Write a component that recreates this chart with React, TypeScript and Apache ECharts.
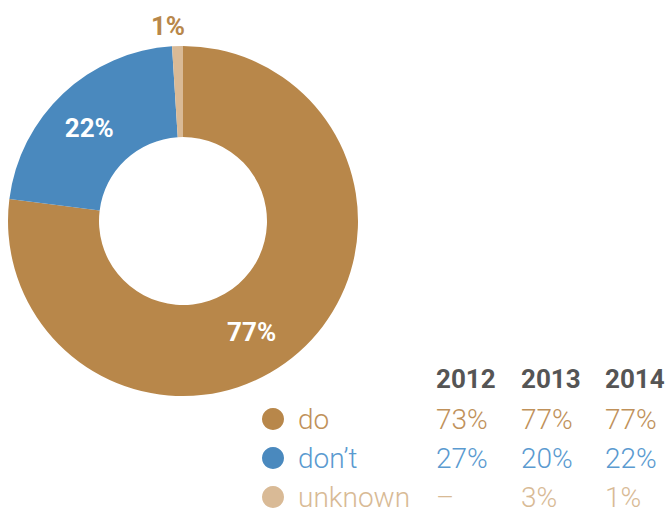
import React, { useEffect, useRef } from "react";
import * as echarts from "echarts";

// Categories and colours
const categories = ["do", "don\u2019t", "unknown"];
const sliceColors = ["#B8874A", "#4A89BE", "#D9BA96"];
const textColors = ["#C0915A", "#5A9AD0", "#D8BA95"];

// Table of yearly shares (%); null = no value ("–")
const years = ["2012", "2013", "2014"];
const doValues = [73, 77, 77];
const dontValues = [27, 20, 22];
const unknownValues: (number | null)[] = [null, 3, 1];

// The doughnut shows the latest year
const pieValues = [doValues[2], dontValues[2], unknownValues[2] as number];

export default function App() {
  const ref = useRef<HTMLDivElement>(null);

  useEffect(() => {
    document.body.style.margin = "0";
    if (!ref.current) return;
    const chart = echarts.init(ref.current, null, { renderer: "svg" });

    const rows = [doValues, dontValues, unknownValues];
    const colX = [436, 521, 605];
    const headerY = 379;
    const rowY = [419, 458, 497];
    const legendX = 273;
    const font = "Roboto";

    const graphics: any[] = [];
    years.forEach((y, i) => {
      graphics.push({
        type: "text",
        x: colX[i],
        y: headerY,
        style: {
          text: y,
          fill: "#555555",
          font: `bold 26px ${font}`,
          textVerticalAlign: "middle",
        },
      });
    });
    categories.forEach((c, r) => {
      graphics.push({
        type: "circle",
        shape: { cx: legendX, cy: rowY[r], r: 11 },
        style: { fill: sliceColors[r] },
      });
      graphics.push({
        type: "text",
        x: legendX + 25,
        y: rowY[r],
        style: {
          text: c,
          fill: textColors[r],
          font: `300 28px ${font}`,
          textVerticalAlign: "middle",
        },
      });
    });
    rows.forEach((row, r) => {
      row.forEach((v, i) => {
        graphics.push({
          type: "text",
          x: colX[i],
          y: rowY[r],
          style: {
            text: v === null ? "\u2013" : `${v}%`,
            fill: textColors[r],
            font: `300 28px ${font}`,
            textVerticalAlign: "middle",
          },
        });
      });
    });

    chart.setOption({
      animation: false,
      series: [
        {
          type: "pie",
          center: [183, 221],
          radius: [84, 175],
          startAngle: 90,
          clockwise: true,
          avoidLabelOverlap: false,
          emphasis: { disabled: true },
          labelLine: { show: false },
          labelLayout: (params: any) => {
            if (params.dataIndex === 0) return { dx: -19, dy: 12 };
            if (params.dataIndex === 1) return { dx: -3, dy: 4 };
            return { dx: 43, dy: -5 };
          },
          data: categories.map((c, i) => ({
            name: c,
            value: pieValues[i],
            itemStyle: { color: sliceColors[i] },
            label: {
              show: true,
              position: i === 2 ? "outside" : "inside",
              color: i === 2 ? sliceColors[0] : "#ffffff",
              fontSize: 26,
              fontWeight: "bold",
              fontFamily: font,
              formatter: (p: any) => `${p.value}%`,
            },
          })),
        },
      ],
      graphic: graphics,
    });

    return () => chart.dispose();
  }, []);

  return <div ref={ref} style={{ width: 670, height: 508 }} />;
}
